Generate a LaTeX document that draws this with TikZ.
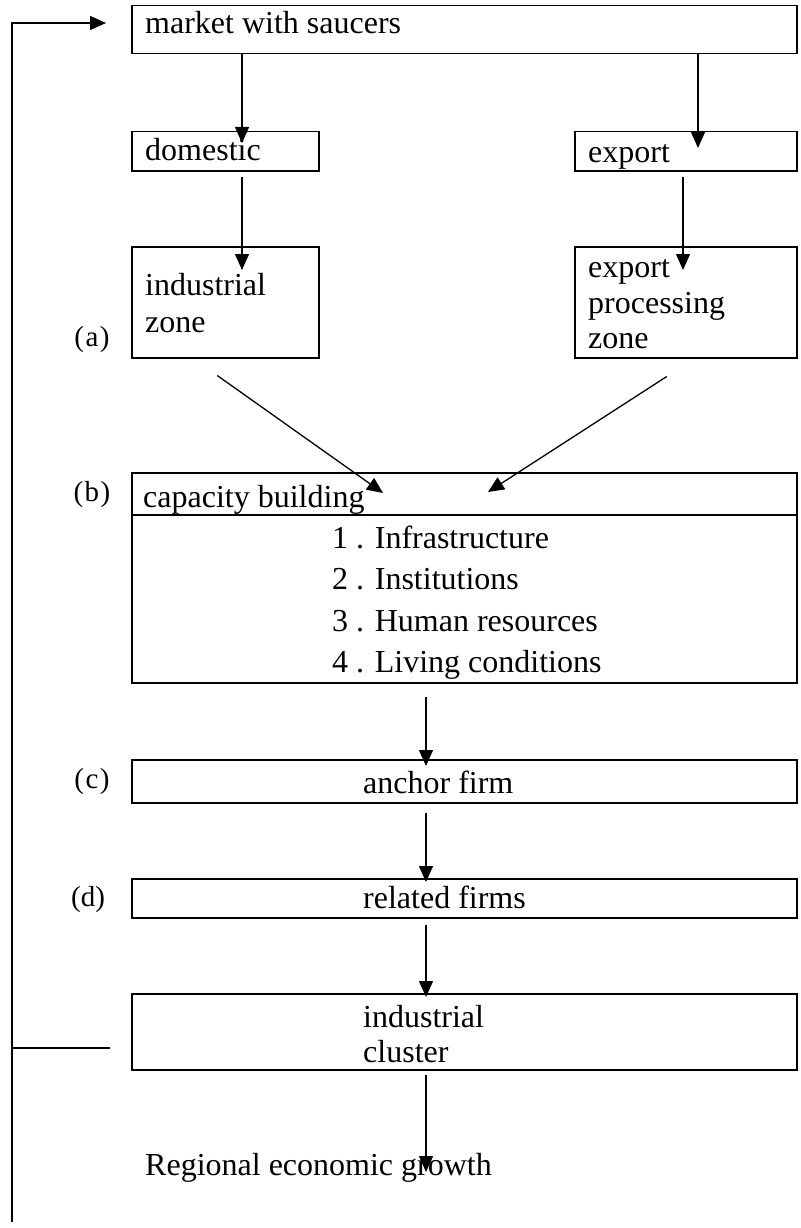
\documentclass[tikz,border=0pt]{standalone}
\usepackage{fontspec}
\setmainfont{Liberation Serif}
\usetikzlibrary{arrows.meta}

\begin{document}
\begin{tikzpicture}[x=1pt,y=-1pt,
box/.style={draw, line width=1.5pt, inner sep=0pt, anchor=north west},
txt/.style={anchor=base west, inner sep=0pt, font=\fontsize{32}{38}\selectfont},
tag/.style={anchor=center, inner sep=0pt, font=\fontsize{29}{35}\selectfont},
arr/.style={line width=1.3pt, -{Triangle[length=16pt,width=14pt]}}]
\useasboundingbox (0,0) rectangle (800,1228);

% boxes
\node[box, minimum width=665pt, minimum height=48pt] (mkt) at (131,5) {};
\node[box, minimum width=187pt, minimum height=39pt] (dom) at (131,131) {};
\node[box, minimum width=222pt, minimum height=39pt] (exp) at (574,131) {};
\node[box, minimum width=187pt, minimum height=111pt] (iz) at (131,246) {};
\node[box, minimum width=222pt, minimum height=111pt] (epz) at (574,246) {};
\node[box, minimum width=665pt, minimum height=210pt] (cap) at (131,472) {};
\draw[line width=1.5pt] (cap.west |- 0,515) -- (cap.east |- 0,515);
\node[box, minimum width=665pt, minimum height=43pt] (anc) at (131,759) {};
\node[box, minimum width=665pt, minimum height=39pt] (rel) at (131,878) {};
\node[box, minimum width=665pt, minimum height=76pt] (clu) at (131,993) {};

% texts
\node[txt] (tmkt) at (145,34) {market with saucers};
\node[txt] (tdom) at (145,160) {domestic};
\node[txt] (texp) at (588,162) {export};
\node[txt] (tiz1) at (145,295) {industrial};
\node[txt] (tiz2) at (145,332) {zone};
\node[txt] (tepz1) at (588,277) {export};
\node[txt] (tepz2) at (588,313) {processing};
\node[txt] (tepz3) at (588,348) {zone};
\node[txt] (tcap) at (143,507) {capacity building};
\node[txt] (item1) at (332,548) {1 . Infrastructure};
\node[txt] (item2) at (332,589) {2 . Institutions};
\node[txt] (item3) at (332,631) {3 . Human resources};
\node[txt] (item4) at (332,672) {4 . Living conditions};
\node[txt] (tanc) at (363,793) {anchor firm};
\node[txt] (trel) at (363,908) {related firms};
\node[txt] (tclu1) at (363,1027) {industrial};
\node[txt] (tclu2) at (363,1062) {cluster};
\node[txt] (growth) at (145,1175) {Regional economic growth};

% stage tags
\node[tag] (taga) at (92,340) {(\kern1.5pt a\kern1.5pt)};
\node[tag] (tagb) at (92,495) {(\kern1.5pt b\kern1.5pt)};
\node[tag] (tagc) at (92,782) {(\kern1.5pt c\kern1.5pt)};
\node[tag] (tagd) at (88,900) {(d)};

% arrows
\coordinate (d1) at (242,143);
\coordinate (e1) at (698,148);
\coordinate (d2) at (242,270);
\coordinate (e2) at (683,270);
\coordinate (in1) at (383,493);
\coordinate (in2) at (488,492);
\coordinate (c1) at (426,766);
\coordinate (c2) at (426,882);
\coordinate (c3) at (426,997);
\coordinate (c4) at (426,1172);
\draw[arr] (mkt.south -| d1) -- (d1);
\draw[arr] (mkt.south -| e1) -- (e1);
\draw[arr] ([yshift=-5pt]dom.south -| d2) -- (d2);
\draw[arr] ([yshift=-5pt]exp.south -| e2) -- (e2);
\draw[arr] ([xshift=-8pt,yshift=-17pt]iz.south) -- (in1);
\draw[arr] ([xshift=-19pt,yshift=-18pt]epz.south) -- (in2);
\draw[arr] ([yshift=-13pt]cap.south -| c1) -- (c1);
\draw[arr] ([yshift=-9pt]anc.south -| c2) -- (c2);
\draw[arr] ([yshift=-6pt]rel.south -| c3) -- (c3);
\draw[arr] ([yshift=-4pt]clu.south -| c4) -- (c4);

% feedback loop
\coordinate (fbin) at (110,1048);
\coordinate (fbb) at (12,1222);
\coordinate (fbt) at (12,23);
\coordinate (fbtip) at (106,23);
\draw[line width=1.3pt] (fbin) -- (fbin -| fbb);
\draw[arr] (fbb) -- (fbt) -- (fbtip);
\end{tikzpicture}
\end{document}
